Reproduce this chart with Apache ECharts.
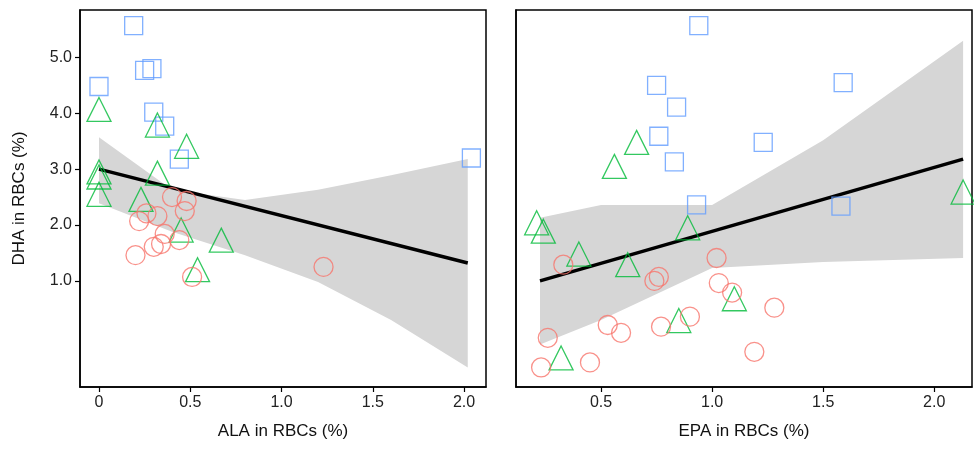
<!DOCTYPE html>
<html><head><meta charset="utf-8">
<script src="https://cdn.jsdelivr.net/npm/echarts@6/dist/echarts.min.js"></script>
<style>html,body{margin:0;padding:0;background:#fff}#c{width:974px;height:449px}</style>
</head><body><div id="c"></div>
<script>
// Left panel (ALA)
const alaSquares=[[0.19,5.57],[0,4.48],[0.25,4.77],[0.29,4.80],[0.30,4.02],[0.36,3.77],[0.44,3.18],[2.04,3.20]];
const alaTriangles=[[0,4.07],[0,2.95],[0,2.86],[0,2.55],[0.32,3.79],[0.32,2.93],[0.48,3.41],[0.23,2.46],[0.45,1.91],[0.67,1.73],[0.54,1.20]];
const alaCircles=[[0.20,1.46],[0.22,2.07],[0.26,2.21],[0.30,1.61],[0.32,2.16],[0.34,1.66],[0.36,1.84],[0.40,2.50],[0.48,2.43],[0.47,2.25],[0.44,1.73],[0.51,1.07],[1.23,1.25]];
const alaBandX=[0,0.4,0.8,1.2,1.6,2.02];
const alaLower=[2.39,1.88,1.46,0.98,0.30,-0.55];
const alaUpper=[3.57,2.63,2.45,2.63,2.89,3.18];
const alaFit=[[0,3.0],[2.02,1.32]];
// Right panel (EPA)
const epaSquares=[[0.94,5.57],[0.75,4.5],[0.84,4.11],[0.76,3.59],[0.83,3.13],[1.23,3.48],[0.93,2.36],[1.59,4.55],[1.58,2.34]];
const epaTriangles=[[0.21,2.04],[0.24,1.89],[0.56,3.05],[0.66,3.48],[0.40,1.48],[0.62,1.29],[0.89,1.95],[0.85,0.29],[1.10,0.68],[0.32,-0.38],[2.13,2.59]];
const epaCircles=[[0.33,1.29],[0.74,1.0],[0.76,1.07],[1.02,1.41],[1.03,0.96],[1.09,0.79],[1.28,0.52],[0.90,0.36],[0.77,0.18],[0.53,0.21],[0.59,0.07],[0.26,-0.02],[0.45,-0.46],[1.19,-0.27],[0.23,-0.55]];
const epaBandX=[0.225,0.5,1.0,1.5,2.13];
const epaLower=[-0.14,0.30,1.23,1.34,1.41];
const epaUpper=[2.13,2.36,2.36,3.52,5.30];
const epaFit=[[0.225,1.0],[2.13,3.18]];

const yTicks=[1,2,3,4,5];
const alaTicks=[0,0.5,1,1.5,2];
const epaTicks=[0.5,1,1.5,2];

const BLUE='#619CFF',GREEN='#00BA38',RED='#F8766D';
function pts(data,sym,size,col,xi){return {type:'scatter',xAxisIndex:xi,yAxisIndex:xi,data,symbol:sym,symbolSize:size,z:5,
  itemStyle:{color:'rgba(0,0,0,0)',borderColor:col,borderWidth:1.3},emphasis:{disabled:true}};}
function band(xs,lo,up,xi){
  const data=xs.map((x,i)=>[x,lo[i],up[i]]);
  return {type:'custom',xAxisIndex:xi,yAxisIndex:xi,data,z:1,silent:true,
    renderItem:function(params,api){
      if(params.dataIndex!==0)return null;
      const top=data.map(d=>api.coord([d[0],d[2]]));
      const bot=data.map(d=>api.coord([d[0],d[1]])).reverse();
      return {type:'group',children:[
        {type:'polygon',shape:{points:top.concat(bot),smooth:0},style:{fill:'#d6d6d6'}}]};
    }};
}
function fit(d,xi){return {type:'line',xAxisIndex:xi,yAxisIndex:xi,data:d,symbol:'none',lineStyle:{color:'#000',width:3.5},z:4};}
const lab={color:'#222',fontSize:16,fontFamily:'Liberation Sans'};
function xAx(gi,min,max,ticks,name){return {type:'value',gridIndex:gi,min,max,name,nameLocation:'middle',nameGap:36,
  nameTextStyle:{color:'#111',fontSize:17,fontFamily:'Liberation Sans'},splitLine:{show:false},
  axisLine:{onZero:false,lineStyle:{color:'#000',width:1.5}},axisTick:{length:5,customValues:ticks,lineStyle:{color:'#000',width:1.2}},
  axisLabel:Object.assign({customValues:ticks,formatter:v=>v===0?'0':v.toFixed(1)},lab)};}
function yAx(gi,show){return {type:'value',gridIndex:gi,min:-0.9,max:5.85,name:show?'DHA in RBCs (%)':'',nameLocation:'middle',nameGap:52,
  nameTextStyle:{color:'#111',fontSize:17,fontFamily:'Liberation Sans'},splitLine:{show:false},
  axisLine:{onZero:false,lineStyle:{color:'#000',width:1.5}},axisTick:{show:show,length:5,customValues:yTicks,lineStyle:{color:'#000',width:1.2}},
  axisLabel:Object.assign({show:show,customValues:yTicks,formatter:v=>v.toFixed(1)},lab)};}
const chart=echarts.init(document.getElementById('c'));
chart.setOption({animation:false,
  grid:[{left:80,top:10,width:406,height:377,show:true,borderColor:'#000',borderWidth:1.5},
        {left:516,top:10,width:456,height:377,show:true,borderColor:'#000',borderWidth:1.5}],
  xAxis:[xAx(0,-0.104,2.12,alaTicks,'ALA in RBCs (%)'),xAx(1,0.117,2.17,epaTicks,'EPA in RBCs (%)')],
  yAxis:[yAx(0,true),yAx(1,false)],
  series:[band(alaBandX,alaLower,alaUpper,0),fit(alaFit,0),
    pts(alaSquares,'rect',18,BLUE,0),pts(alaTriangles,'triangle',24,GREEN,0),pts(alaCircles,'circle',19,RED,0),
    band(epaBandX,epaLower,epaUpper,1),fit(epaFit,1),
    pts(epaSquares,'rect',18,BLUE,1),pts(epaTriangles,'triangle',24,GREEN,1),pts(epaCircles,'circle',19,RED,1)]
});
</script></body></html>
